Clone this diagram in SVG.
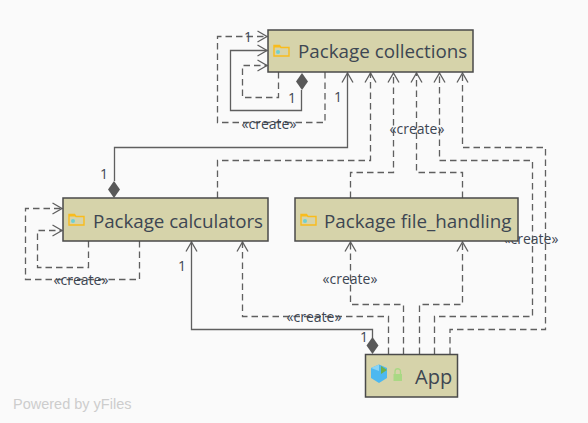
<svg xmlns="http://www.w3.org/2000/svg" width="588" height="423" viewBox="0 0 588 423">
<style>
.c{fill:none;stroke:#5f5f5f;stroke-width:1.3}
.d{stroke-dasharray:6.500 4}
.a{fill:none;stroke:#5f5f5f;stroke-width:1.3}
.dm{fill:#595959;stroke:none}
.b{fill:#d6d3aa;stroke:#4a4a4a;stroke-width:1.5}
text{font-family:"Open Sans","Noto Sans",sans-serif;fill:#3d4652}
.n{font-size:18.800px}
.l{font-size:14px;text-anchor:middle}
.f{fill:none;stroke:#f9bc1c;stroke-width:1.4}
.t{fill:#6fd0d0}
</style>
<defs>
<marker id="o" markerWidth="12" markerHeight="14" refX="10.5" refY="7" orient="auto" markerUnits="userSpaceOnUse">
<path d="M1 1.500 L10.500 7 L1 12.500" class="a"/>
</marker>
<symbol id="folder" viewBox="0 0 17 13" width="17" height="13">
<path d="M1 12 V1.500 H6.500 L8 3.500 H16 V12 Z" class="f"/>
<path d="M1 1.500 H6.500 L8 3.500 H1 Z" fill="#f9bc1c"/>
<circle cx="5" cy="8" r="2" class="t"/>
</symbol>
</defs>
<rect width="588" height="423" fill="#fafafa"/>
<g id="connectors">
<path class="c d" marker-end="url(#o)" d="M278.500 72V97.500H242.500V65.500H267"/>
<path class="c d" marker-end="url(#o)" d="M325 72V122.500H217.500V36.500H267"/>
<path class="c" marker-end="url(#o)" d="M301.500 90V110.500H230.500V50.500H267"/>
<path class="c" marker-end="url(#o)" d="M114.500 181V147.500H347.500V73"/>
<path class="c d" marker-end="url(#o)" d="M217.500 198V160.500H370.500V73"/>
<path class="c d" marker-end="url(#o)" d="M350.500 198V172.500H393.500V73"/>
<path class="c d" marker-end="url(#o)" d="M462.500 198V172.500H416.500V73"/>
<path class="c d" marker-end="url(#o)" d="M434.500 354V316.500H532.500V160.500H439.500V73"/>
<path class="c d" marker-end="url(#o)" d="M450 354V329.500H545.500V147.500H462.500V73"/>
<path class="c d" marker-end="url(#o)" d="M403.500 354V304.500H350.500V242"/>
<path class="c d" marker-end="url(#o)" d="M419.500 354V304.500H462.500V242"/>
<path class="c d" marker-end="url(#o)" d="M388.500 354V316.500H242.500V242"/>
<path class="c" marker-end="url(#o)" d="M372.500 338V329.500H191.500V242"/>
<path class="c d" marker-end="url(#o)" d="M88.500 241V267.500H37.500V230.500H62"/>
<path class="c d" marker-end="url(#o)" d="M139.500 241V279.500H25.500V208.500H62"/>
<path class="dm" d="M302 73L308 81.500L302 90L296 81.500Z"/>
<path class="dm" d="M114 181L120 189.500L114 198L108 189.500Z"/>
<path class="dm" d="M372.500 337L378.500 345.500L372.500 354L366.500 345.500Z"/>
<text class="l" x="248" y="42">1</text>
<text class="l" x="292" y="103">1</text>
<text class="l" x="338" y="102">1</text>
<text class="l" x="104" y="179">1</text>
<text class="l" x="182" y="271">1</text>
<text class="l" x="364" y="342">1</text>
<text class="l" x="269" y="129">«create»</text>
<text class="l" x="417" y="134">«create»</text>
<text class="l" x="531" y="244">«create»</text>
<text class="l" x="350" y="284">«create»</text>
<text class="l" x="314" y="322">«create»</text>
<text class="l" x="81" y="285">«create»</text>
</g>
<g id="collections">
<rect class="b" x="268" y="30" width="205" height="42"/>
<use href="#folder" x="273" y="44"/>
<text class="n" x="298" y="58">Package collections</text>
</g>
<g id="calculators">
<rect class="b" x="63" y="198" width="205" height="43"/>
<use href="#folder" x="68" y="213"/>
<text class="n" x="93" y="228" textLength="170">Package calculators</text>
</g>
<g id="file_handling">
<rect class="b" x="295" y="198" width="223" height="43"/>
<use href="#folder" x="300" y="213"/>
<text class="n" x="324" y="228">Package file_handling</text>
</g>
<g id="app">
<rect class="b" x="365.500" y="354.500" width="92" height="42.500"/>
<path d="M371 368L379 364.500L387 368V378L379 383L371 378Z" fill="#4db8f0"/>
<path d="M371 368L379 371L379 364.500Z" fill="#8ad4f5"/>
<path d="M381 366V374L387 370Z" fill="#6fb04a"/>
<rect x="393.500" y="374" width="8.500" height="7" fill="#a9d884"/>
<path d="M395 374V371.500A2.700 2.700 0 0 1 400.500 371.500V374" fill="none" stroke="#a9d884" stroke-width="1.300"/>
<text class="n" x="415" y="384" style="font-size:20px">App</text>
</g>
<text x="13" y="409" font-size="14.500" style="fill:#cdcdcd;font-family:'Liberation Sans',Arial,sans-serif">Powered by yFiles</text>
</svg>
